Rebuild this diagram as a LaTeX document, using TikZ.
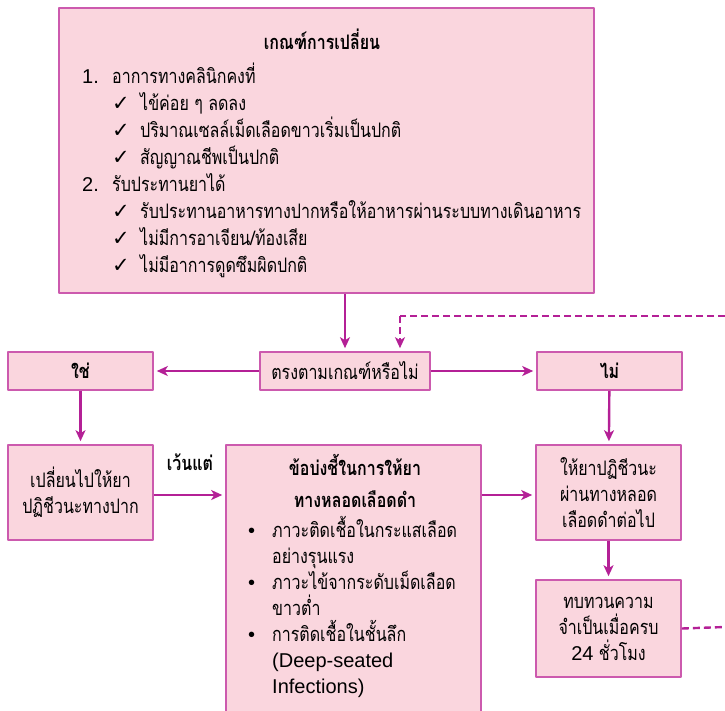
\documentclass[tikz,border=0pt]{standalone}
\usepackage{fontspec}
\setmainfont{Liberation Sans}
\newfontfamily\thaifont[Script=Thai,FakeStretch=0.8]{Loma}
\newfontfamily\symfont{DejaVu Sans}
\usetikzlibrary{arrows.meta,calc}
\definecolor{boxpink}{RGB}{250,214,222}
\definecolor{boxline}{RGB}{204,90,174}
\definecolor{flowmag}{RGB}{180,32,150}
\begin{document}
\begin{tikzpicture}[x=1pt, y=-1pt, font=\thaifont\fontsize{20}{26}\selectfont, line join=round,
  box/.style={draw=boxline, line width=1.6pt, fill=boxpink, inner sep=0pt, align=center},
  flow/.style={flowmag, line width=2.4pt, shorten >=3pt, -{Stealth[length=11pt,width=10pt,inset=3pt]}},
  loopback/.style={flowmag, line width=2.4pt, dash pattern=on 7pt off 4pt},
  txt/.style={inner sep=0pt, anchor=base west},
  head/.style={inner sep=0pt, anchor=base, font=\thaifont\bfseries\fontsize{20}{26}\selectfont}]
\useasboundingbox (0,0) rectangle (725,710);
\clip (0,0) rectangle (725,710);
% boxes
\node[box, minimum width=535pt, minimum height=285pt] (crit) at (326.5,150.5) {};
\node[box, minimum width=170pt, minimum height=38pt] (ask) at (345,371) {ตรงตามเกณฑ์หรือไม่};
\node[box, minimum width=145pt, minimum height=38pt, font=\thaifont\bfseries\fontsize{20}{26}\selectfont] (yes) at (80.5,371) {ใช่};
\node[box, minimum width=145pt, minimum height=38pt, font=\thaifont\bfseries\fontsize{20}{26}\selectfont] (no) at (609.5,371) {ไม่};
\node[box, minimum width=145pt, minimum height=95pt] (oral) at (80.5,492.5) {เปลี่ยนไปให้ยา\\ปฏิชีวนะทางปาก};
\node[box, minimum width=255pt, minimum height=275pt] (iv) at (353.5,582.5) {};
\node[box, minimum width=145pt, minimum height=95pt] (cont) at (608.5,492.5) {ให้ยาปฏิชีวนะ\\ผ่านทางหลอด\\เลือดดำต่อไป};
\node[box, minimum width=145pt, minimum height=97pt] (review) at (608.5,628.5) {ทบทวนความ\\จำเป็นเมื่อครบ\\{\rmfamily 24} ชั่วโมง};
% criteria text
\node[head] (crithead) at (322,49) {เกณฑ์การเปลี่ยน};
\node[txt] (n1) at (82,83) {\rmfamily 1.};
\node[txt] (t1) at (112,83) {อาการทางคลินิกคงที่};
\node[txt] (n2) at (82,191) {\rmfamily 2.};
\node[txt] (t2) at (112,191) {รับประทานยาได้};
\foreach \i/\y/\t in {1/110/ไข้ค่อย ๆ ลดลง, 2/137/ปริมาณเซลล์เม็ดเลือดขาวเริ่มเป็นปกติ, 3/164/สัญญาณชีพเป็นปกติ,
  4/218/รับประทานอาหารทางปากหรือให้อาหารผ่านระบบทางเดินอาหาร, 5/245/{ไม่มีการอาเจียน/ท้องเสีย}, 6/272/ไม่มีอาการดูดซึมผิดปกติ}{
  \node[txt] (ck\i) at (112,\y) {\symfont\bfseries\fontsize{21}{26}\selectfont ✓};
  \node[txt] (c\i) at (140,\y) {\t};}
% indication text
\node[head] (ivhead1) at (355,475) {ข้อบ่งชี้ในการให้ยา};
\node[head] (ivhead2) at (355,507) {ทางหลอดเลือดดำ};
\foreach \i/\y in {1/537, 2/589, 3/641}
  \node[txt] (b\i) at (248,\y) {\rmfamily •};
\foreach \i/\y/\t in {1/537/ภาวะติดเชื้อในกระแสเลือด, 2/563/อย่างรุนแรง, 3/589/ภาวะไข้จากระดับเม็ดเลือด, 4/615/ขาวต่ำ,
  5/641/การติดเชื้อในชั้นลึก, 6/667/{\rmfamily(Deep-seated}, 7/693/{\rmfamily Infections)}}
  \node[txt] (l\i) at (272,\y) {\t};
\node[head] (except) at (190,470) {เว้นแต่};
% connectors
\coordinate (edgetop) at (725,316);
\coordinate (edgebot) at (725,627);
\coordinate (back) at (400,316);
\draw[flow] (crit.south -| ask.north) -- (ask.north);
\draw[flow] (ask) -- (yes);
\draw[flow] (ask) -- (no);
\draw[flow] (yes) -- (oral);
\draw[flow] (no) -- (cont);
\draw[flow] (oral.east |- 0,495) -- (iv.west |- 0,495);
\draw[flow] (iv.east |- 0,495) -- (cont.west |- 0,495);
\draw[flow] (cont) -- (review);
\draw[loopback] (review.east) -- (edgebot);
\draw[loopback] (edgetop) -- (back);
\draw[flow, dash pattern=on 7pt off 4pt] (back) -- (back |- ask.north);
\end{tikzpicture}
\end{document}
